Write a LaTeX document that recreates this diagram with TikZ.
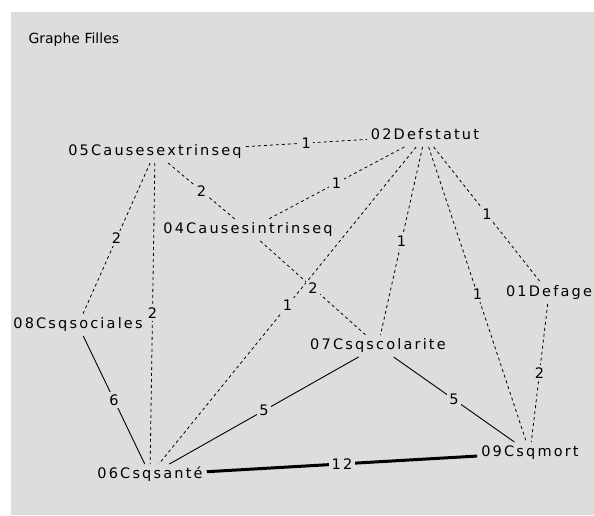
\documentclass[tikz,border=0pt]{standalone}
\usepackage{fontspec}
\setmainfont{DejaVu Sans}[LetterSpace=15]
\newfontfamily\titlefont{DejaVu Sans}[LetterSpace=0]
\definecolor{bggray}{RGB}{221,221,221}

\begin{document}
\begin{tikzpicture}[x=1pt,y=1pt]
\tikzstyle{vertex} = [font=\fontsize{14.5}{16}\selectfont, inner sep=4pt, text height=10.5pt, text depth=3pt]
\tikzstyle{weight} = [midway, fill=bggray, inner sep=2.5pt, font=\fontsize{14.5}{16}\selectfont]
\tikzstyle{weak} = [dash pattern=on 3pt off 3pt, line width=0.8pt]
\tikzstyle{strong} = [line width=0.9pt]
\tikzstyle{heavy} = [line width=3pt]

\useasboundingbox (0,0) rectangle (594,515);
\fill[white] (0,0) rectangle (594,515);
\fill[bggray] (11,0) rectangle (594,503);

\node[anchor=west, font=\titlefont\fontsize{14}{16}\selectfont] (title) at (25,475) {Graphe Filles};

% sommets
\node[vertex] (extrinseq) at (155,363) {05Causesextrinseq};
\node[vertex] (defstatut) at (425,379) {02Defstatut};
\node[vertex] (intrinseq) at (248,285) {04Causesintrinseq};
\node[vertex] (defage)    at (549,222) {01Defage};
\node[vertex] (sociales)  at (78,190)  {08Csqsociales};
\node[vertex] (scolarite) at (378,169) {07Csqscolarite};
\node[vertex] (sante)     at (150,40)  {06Csqsanté};
\node[vertex] (mort)      at (530,62)  {09Csqmort};

% aretes
\draw[weak] (extrinseq) -- node[weight] {1} (defstatut);
\draw[weak] (extrinseq) -- node[weight] {2} (intrinseq);
\draw[weak] (extrinseq) -- node[weight] {2} (sociales);
\draw[weak] (extrinseq) -- node[weight] {2} (sante);
\draw[weak] (defstatut) -- node[weight] {1} (intrinseq);
\draw[weak] (defstatut) -- node[weight] {1} (sante);
\draw[weak] (defstatut) -- node[weight] {1} (scolarite);
\draw[weak] (defstatut) -- node[weight] {1} (mort);
\draw[weak] (defstatut) -- node[weight] {1} (defage);
\draw[weak] (intrinseq) -- node[weight] {2} (scolarite);
\draw[weak] (defage) -- node[weight] {2} (mort);

\draw[strong] (sociales) -- node[weight] {6} (sante);
\draw[strong] (scolarite) -- node[weight] {5} (sante);
\draw[strong] (scolarite) -- node[weight] {5} (mort);
\draw[heavy] (sante) -- node[weight] {12} (mort);

\end{tikzpicture}
\end{document}
